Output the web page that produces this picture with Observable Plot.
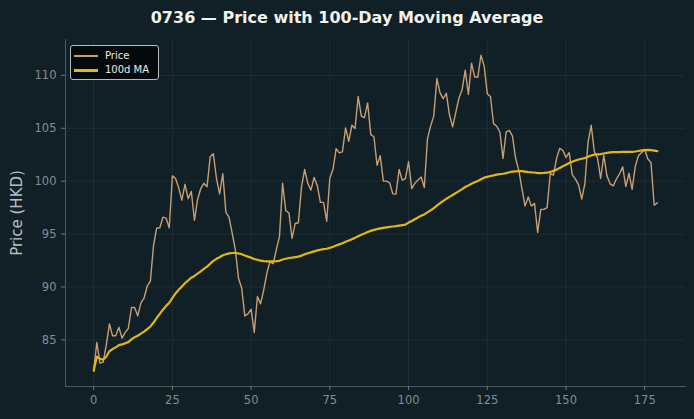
<!DOCTYPE html>
<html>
<head>
<meta charset="utf-8">
<script src="https://cdn.jsdelivr.net/npm/d3@7"></script>
<script src="https://cdn.jsdelivr.net/npm/@observablehq/plot@0.6"></script>
<style>
  html, body { margin: 0; padding: 0; background: #111f26; }
  #wrap { position: relative; width: 694px; height: 419px; background: #111f26; font-family: "DejaVu Sans", sans-serif; }
  #title { position: absolute; left: 0; top: 8px; width: 694px; text-align: center; color: #f2f2ee; font-weight: bold; font-size: 16px; line-height: 19px; }
  #legend { position: absolute; left: 70px; top: 45px; width: 87px; height: 33px; background: #04090b; border: 1px solid #b9bcbd; border-radius: 3px; }
  .entry { position: absolute; left: 0; height: 14px; font-size: 10px; color: #ececec; }
  .swatch { position: absolute; left: 3px; width: 24px; }
  .entry span { position: absolute; left: 34px; top: 0; white-space: nowrap; line-height: 14px; }
</style>
</head>
<body>
<div id="wrap">
  <div id="title">0736 — Price with 100-Day Moving Average</div>
  <div id="chart"></div>
  <div id="legend">
    <div class="entry" style="top:3px"><div class="swatch" style="top:6px;border-top:2px solid #c79f74"></div><span>Price</span></div>
    <div class="entry" style="top:17px"><div class="swatch" style="top:6px;border-top:3px solid #e2b617"></div><span>100d MA</span></div>
  </div>
</div>
<script>
// Daily closing prices (HKD), day 0 .. 179
const price = [
  82.08, 84.75, 82.8, 82.9, 84.5, 86.5, 85.38, 85.38, 86.2, 85.16,
  85.7, 86.07, 88.05, 88.05, 87.26, 88.5, 88.95, 90.07, 90.55, 93.9,
  95.55, 95.6, 96.6, 96.5, 95.6, 100.5, 100.25, 99.37, 98.2, 99.7,
  98.35, 99.03, 96.3, 98.27, 99.3, 99.8, 99.46, 102.3, 102.6, 100.25,
  98.8, 100.7, 97.05, 96.57, 95.06, 93.5, 90.8, 89.9, 87.26, 87.45,
  87.9, 85.7, 89.1, 88.4, 89.7, 91.3, 92.4, 92.2, 93.5, 94.75,
  99.8, 97.2, 97.0, 94.6, 96.0, 96.07, 99.46, 101.1, 99.8, 99.15,
  100.35, 99.6, 97.99, 97.99, 96.2, 100.3, 101.1, 103.08, 102.67, 102.77,
  105.03, 103.77, 105.28, 104.97, 108.0, 106.15, 106.0, 107.4, 104.4, 104.2,
  101.5, 102.4, 100.0, 100.0, 99.84, 98.8, 98.77, 101.1, 100.1, 100.25,
  101.83, 99.3, 99.8, 100.1, 100.4, 99.4, 104.0, 105.2, 106.15, 109.7,
  108.35, 107.8, 108.3, 106.25, 105.13, 106.5, 107.85, 108.63, 110.5, 108.2,
  111.15, 109.85, 109.84, 111.9, 110.9, 108.27, 108.0, 105.44, 105.19, 104.65,
  102.14, 104.65, 104.8, 104.25, 102.14, 101.04, 99.3, 97.64, 98.5, 97.64,
  97.9, 95.15, 97.33, 97.33, 97.5, 100.7, 100.57, 102.14, 103.1, 102.9,
  102.25, 102.7, 100.6, 100.2, 99.65, 98.3, 99.78, 103.7, 105.28, 102.8,
  102.2, 100.25, 102.45, 100.5, 99.75, 99.55, 100.2, 100.7, 101.35, 99.48,
  100.75, 99.22, 101.4, 102.4, 102.7, 103.0, 102.1, 101.75, 97.72, 97.95
];
const maWindow = 100;
const xTicks = [0, 25, 50, 75, 100, 125, 150, 175];
const yTicks = [85, 90, 95, 100, 105, 110];

const rows = price.map((p, i) => ({day: i, price: p}));

// pad the x and y extents by 5% like a matplotlib autoscale
const xExt = d3.extent(rows, d => d.day);
const yExt = d3.extent(price);
const xPad = (xExt[1] - xExt[0]) * 0.05;
const yPad = (yExt[1] - yExt[0]) * 0.05;

const grid = "#22323a";
const axisGray = "#838d92";

const chart = Plot.plot({
  width: 694,
  height: 419,
  marginLeft: 65,
  marginRight: 9,
  marginTop: 39,
  marginBottom: 33,
  style: {background: "transparent", color: axisGray, fontFamily: "DejaVu Sans, sans-serif"},
  x: {domain: [xExt[0] - xPad, xExt[1] + xPad]},
  y: {domain: [yExt[0] - yPad, yExt[1] + yPad]},
  marks: [
    Plot.gridX(xTicks, {stroke: grid, strokeOpacity: 0.8}),
    Plot.gridY(yTicks, {stroke: grid, strokeOpacity: 0.8}),
    Plot.frame({anchor: "left", stroke: "#4d585c"}),
    Plot.frame({anchor: "bottom", stroke: "#4d585c"}),
    Plot.axisX({ticks: xTicks, tickSize: 4, tickPadding: 5, fontSize: 11.5, label: null, stroke: "#6d777b", fill: axisGray}),
    Plot.axisY({ticks: yTicks, tickSize: 4, tickPadding: 5, fontSize: 11.5, label: null, stroke: "#6d777b", fill: axisGray}),
    Plot.text(["Price (HKD)"], {frameAnchor: "left", textAnchor: "middle", rotate: -90, dx: -48, fontSize: 15, fill: "#b8c0c4"}),
    Plot.lineY(rows, {x: "day", y: "price", stroke: "#c79f74", strokeWidth: 1.4}),
    Plot.lineY(rows, Plot.windowY({k: maWindow, anchor: "end", reduce: "mean", strict: false}, {x: "day", y: "price", stroke: "#e2b617", strokeWidth: 2.2}))
  ]
});
document.getElementById("chart").appendChild(chart);
</script>
</body>
</html>
